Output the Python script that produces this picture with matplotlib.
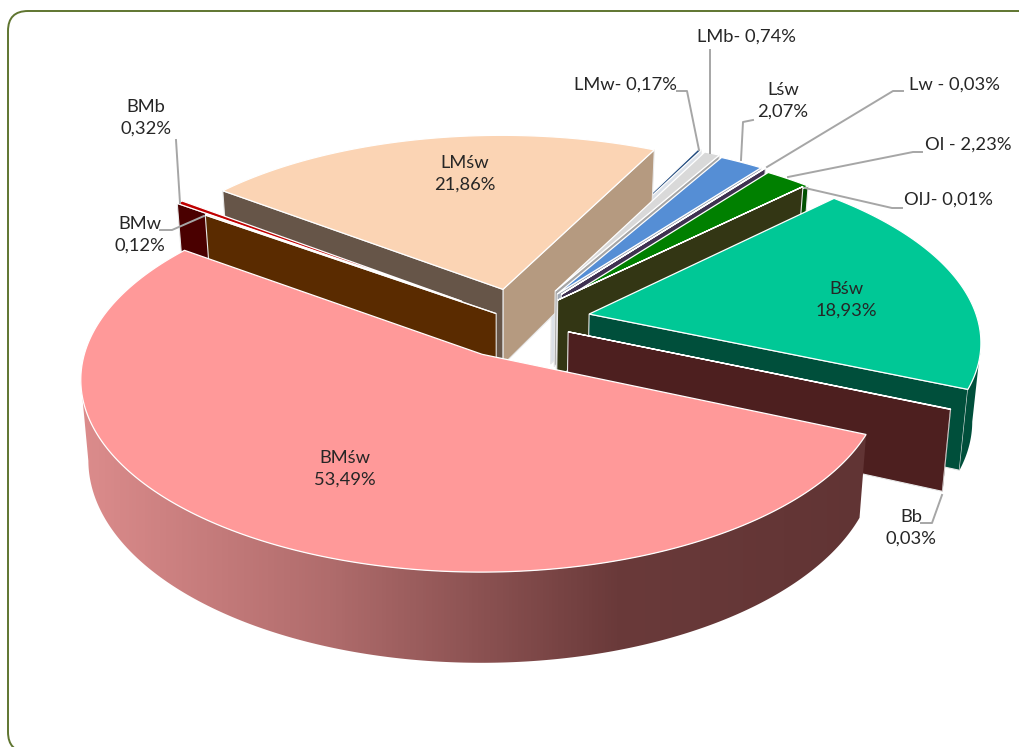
import numpy as np
import matplotlib
matplotlib.use('Agg')
from matplotlib import pyplot as plt
from matplotlib.colors import LinearSegmentedColormap
from matplotlib.patches import FancyBboxPatch, Polygon

# order is counter clockwise, starting with the big slice
names = ['BMśw', 'Bb', 'Bśw', 'OlJ', 'Ol', 'Lw', 'Lśw', 'LMb', 'LMw', 'LMśw', 'BMb', 'BMw']
values = [53.49, 0.03, 18.93, 0.01, 2.23, 0.03, 2.07, 0.74, 0.17, 21.86, 0.32, 0.12]

explode = [0.192, 0.114, 0.164, 0.15, 0.158, 0.18, 0.18, 0.2, 0.22, 0.197, 0.206, 0.092]
nudge_x = [-0.014, 0.005, 0.005, -0.02, -0.002, -0.012, -0.013, -0.014, -0.027, -0.012, 0, 0]
nudge_y = [0, 0, 0.022, 0.025, 0.015, 0.02, 0.015, 0.006, 0, 0, 0, 0]
top_colors = ['#FF9999', '#7A3030', '#00C896', '#E4EDD0', '#008000', '#5F497A', '#558ED5',
              '#D9D9D9', '#1F497D', '#FBD4B4', '#C00000', '#FAD9BC']
start_walls = ['#6B3A3A', '#4D1F1F', '#004F3B', '#333614', '#005000', '#3F3151', '#A0A8B4',
               '#A6A6A6', '#DCE1E8', '#B59A80', '#4A0000', '#5A2B00']
end_walls = ['#6B3A3A', '#4D1F1F', '#004F3B', '#333614', '#005000', '#3F3151', '#3A5F90',
             '#A6A6A6', '#DCE1E8', '#665548', '#4A0000', '#5A2B00']
outer_walls = ['#6B3A3A', '#4D1F1F', '#004F3B', '#333614', '#005000', '#3F3151', '#3A5F90',
               '#A6A6A6', '#1F497D', '#B59A80', '#4A0000', '#5A2B00']

# camera, fitted on the corners of the slices in pixels
START_ANGLE = 143.8
K = 0.1296
F = 398
G = 1464
ORIG_X = 490
HORIZON = -1109
HEIGHT = 79
VANISH_X = 500
SHRINK = 0.982
CENTER = np.array([0.09, 0.17])
CAMERA = np.array([0.0, -1 / K])
LINE = '#A6A6A6'

# shade of the big slice, left to right
shade = LinearSegmentedColormap.from_list('shade', [(0, '#DC8C8C'), (0.315, '#B06C6C'),
                                                    (0.68, '#6A3A3A'), (1, '#613434')])


def project(p):
    w = 1 / (1 + K * p[1])
    return ORIG_X + F * p[0] * w, HORIZON + G * w


def project_low(p):
    w = 1 / (1 + K * p[1])
    x, y = project(p)
    return VANISH_X + (x - VANISH_X) * SHRINK, y + HEIGHT * w


def polar(angle):
    a = np.radians(angle)
    return np.array([np.cos(a), np.sin(a)])


def apex_of(i, mid):
    return CENTER + explode[i] * polar(mid) + np.array([nudge_x[i], nudge_y[i]])


def side_wall(ax, apex, rim, normal, color, z):
    if np.dot(CAMERA - apex, normal) <= 0:
        return
    pts = [project(apex), project(rim), project_low(rim), project_low(apex)]
    ax.add_patch(Polygon(pts, facecolor=color, edgecolor='#E8E8E8', lw=0.8, zorder=z))


def outer_wall(ax, i, apex, rim, z):
    seen = [p for p in rim if np.dot(CAMERA - p, p - apex) > 0]
    if len(seen) < 2:
        return
    pts = [project(p) for p in seen] + [project_low(p) for p in seen[::-1]]
    if i == 0:
        clip = Polygon(pts, facecolor='none', edgecolor='none', transform=ax.transData)
        ax.add_patch(clip)
        im = ax.imshow(np.linspace(0, 1, 256)[None, :], cmap=shade, extent=(80, 870, 747, 0),
                       aspect='auto', zorder=z)
        im.set_clip_path(clip)
    else:
        ax.add_patch(Polygon(pts, facecolor=outer_walls[i], edgecolor='none', zorder=z))


def draw_slice(ax, i, a1, a2, z):
    apex = apex_of(i, (a1 + a2) / 2)
    angles = np.linspace(a1, a2, max(int((a2 - a1) * 3) + 2, 2))
    rim = [apex + polar(a) for a in angles]

    side_wall(ax, apex, rim[0], polar(a1 - 90), start_walls[i], z)
    side_wall(ax, apex, rim[-1], polar(a2 + 90), end_walls[i], z + 0.1)
    outer_wall(ax, i, apex, rim, z + 0.2)

    top = [project(apex)] + [project(p) for p in rim]
    ax.add_patch(Polygon(top, facecolor=top_colors[i], edgecolor='white', lw=0.9, zorder=z + 0.3))


def pct(v):
    return f'{v:.2f}'.replace('.', ',') + '%'


fig = plt.figure(figsize=(10.2, 7.47), dpi=100)
ax = fig.add_axes([0, 0, 1, 1])
ax.axis('off')

ax.add_patch(FancyBboxPatch((8, 11), 1030, 741, boxstyle='round,pad=0,rounding_size=20',
                            facecolor='white', edgecolor='#5F7530', lw=1.4, zorder=0))

spans = np.array(values) / sum(values) * 360
starts = START_ANGLE + np.concatenate([[0], np.cumsum(spans)[:-1]])
mids = starts + spans / 2
depth = [apex_of(i, mids[i])[1] for i in range(len(values))]

z = 2
for i in np.argsort(depth)[::-1]:
    draw_slice(ax, i, starts[i], starts[i] + spans[i], z)
    z += 1

val = dict(zip(names, values))
label_font = dict(family='Lato', fontsize=13.2, color='#262626', ha='center', va='center', zorder=30, linespacing=1.4)

# two line labels, text centres in pixels
for n, x, y in [('BMśw', 345, 469), ('LMśw', 465, 174), ('Bśw', 846, 300), ('BMb', 146, 118),
                ('BMw', 140, 235), ('Lśw', 783, 101), ('Bb', 911, 528)]:
    ax.text(x, y, f'{n}\n{pct(val[n])}', **label_font)

for n, sep, x, y in [('LMw', '- ', 625, 85), ('LMb', '- ', 746, 37), ('Lw', ' - ', 954, 85),
                     ('Ol', ' - ', 968, 145), ('OlJ', '- ', 948, 200)]:
    ax.text(x, y, f'{n}{sep}{pct(val[n])}', **label_font)

leaders = [
    [(176, 140), (180, 203)],
    [(160, 230), (172, 230), (204, 216)],
    [(677, 91), (687, 91), (699, 150)],
    [(710, 50), (710, 153)],
    [(753, 120), (743, 122), (741, 160)],
    [(903, 91), (893, 91), (767, 167)],
    [(922, 152), (913, 152), (788, 177)],
    [(902, 208), (892, 208), (805, 188)],
    [(921, 523), (932, 523), (942, 495)],
]
for l in leaders:
    xs, ys = zip(*l)
    ax.plot(xs, ys, color=LINE, lw=1.4, zorder=25)

ax.set_xlim(0, 1020)
ax.set_ylim(747, 0)

fig.savefig('out.png', dpi=100)
